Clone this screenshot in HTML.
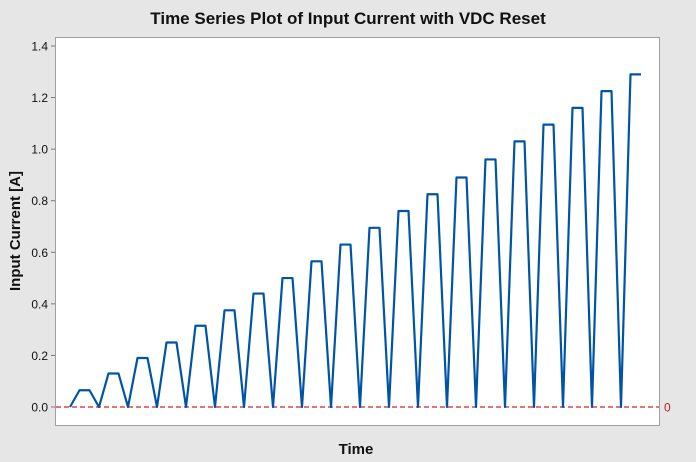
<!DOCTYPE html>
<html><head><meta charset="utf-8"><style>
html,body{margin:0;padding:0;background:#e6e6e6;}
svg{display:block;font-family:"Liberation Sans",sans-serif;}
</style></head><body>
<svg width="696" height="462" viewBox="0 0 696 462">
<rect width="696" height="462" fill="#e6e6e6"/>
<rect x="55.5" y="37.5" width="604" height="388" fill="#fff" stroke="#a0a0a0"/>
<text x="348" y="24" text-anchor="middle" font-size="17" font-weight="bold" fill="#111">Time Series Plot of Input Current with VDC Reset</text>
<text x="356" y="454" text-anchor="middle" font-size="15" font-weight="bold" fill="#111">Time</text>
<text transform="translate(20,231) rotate(-90)" text-anchor="middle" font-size="15" font-weight="bold" fill="#111">Input Current [A]</text>
<g id="yaxis"></g>
<g id="series"></g>
</svg>
<script>
const peaks=[0.065,0.13,0.19,0.25,0.315,0.375,0.44,0.50,0.565,0.63,0.695,0.76,0.825,0.89,0.96,1.03,1.095,1.16,1.225,1.29];
const yTicks=[0,0.2,0.4,0.6,0.8,1.0,1.2,1.4];
const yTickLabels=["0.0","0.2","0.4","0.6","0.8","1.0","1.2","1.4"];
const refValue=0;
const NS="http://www.w3.org/2000/svg";
const y=v=>407-v*(361/1.4);
const x=t=>70+t;
const ya=document.getElementById('yaxis');
yTicks.forEach((v,i)=>{
 const l=document.createElementNS(NS,'line');
 l.setAttribute('x1',51);l.setAttribute('x2',55);l.setAttribute('y1',y(v));l.setAttribute('y2',y(v));l.setAttribute('stroke','#777');
 
 
 ya.appendChild(l);
 const t=document.createElementNS(NS,'text');
 t.setAttribute('x',48);t.setAttribute('y',y(v)+4.5);t.setAttribute('text-anchor','end');t.setAttribute('font-size','12');t.setAttribute('fill','#111');
 t.textContent=yTickLabels[i];
 
 
 ya.appendChild(t);
});
const s=document.getElementById('series');
const ref=document.createElementNS(NS,'line');
ref.setAttribute('x1',56);ref.setAttribute('x2',659);ref.setAttribute('y1',y(refValue));ref.setAttribute('y2',y(refValue));
ref.setAttribute('stroke','#d62020');ref.setAttribute('stroke-width','1.3');ref.setAttribute('stroke-dasharray','5,3');


s.appendChild(ref);
const rl=document.createElementNS(NS,'text');
rl.setAttribute('x',664);rl.setAttribute('y',y(refValue)+4.5);rl.setAttribute('font-size','12');rl.setAttribute('fill','#c02020');
rl.textContent=String(refValue);


s.appendChild(rl);
let pts=[];
peaks.forEach((p,k)=>{
 const st=k*29;
 pts.push([x(st),y(0)]);
 pts.push([x(st+9.5),y(p)]);
 pts.push([x(st+19.5),y(p)]);
});
pts.push([x(peaks.length*29-29+20),y(peaks[peaks.length-1])]);
const pl=document.createElementNS(NS,'polyline');
pl.setAttribute('points',pts.map(q=>q.join(',')).join(' '));
pl.setAttribute('fill','none');pl.setAttribute('stroke','#0054a6');pl.setAttribute('stroke-width','2.2');pl.setAttribute('stroke-linejoin','round');


s.appendChild(pl);
</script>
</body></html>
